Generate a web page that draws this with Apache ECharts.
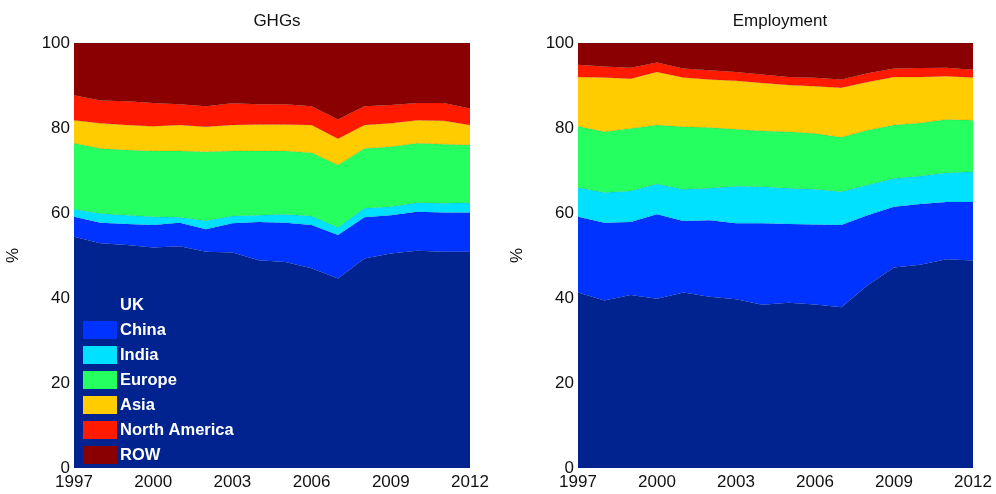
<!DOCTYPE html>
<html>
<head>
<meta charset="utf-8">
<script src="https://cdn.jsdelivr.net/npm/echarts@6/dist/echarts.min.js"></script>
<style>html,body{margin:0;padding:0;background:#fff}#c{width:996px;height:494px}</style>
</head>
<body>
<div id="c"></div>
<script>
const years = ['1997','1998','1999','2000','2001','2002','2003','2004','2005','2006','2007','2008','2009','2010','2011','2012'];
const regions = ['UK','China','India','Europe','Asia','North America','ROW'];
const colors = ['#00238f','#0033ff','#00e1ff','#25ff60','#ffcc00','#ff1a00','#8a0000'];

// GHGs shares (%)
const ghgUK     = [54.4,52.9,52.5,51.9,52.2,50.9,50.7,48.9,48.5,47.0,44.6,49.3,50.5,51.1,50.9,50.9];
const ghgChina  = [4.7,4.8,4.9,5.3,5.5,5.3,6.9,9.0,9.2,10.2,10.2,9.7,9.0,9.2,9.2,9.2];
const ghgIndia  = [1.8,2.2,2.1,1.9,1.3,2.0,1.7,1.6,2.0,2.1,1.8,2.1,2.0,2.1,2.2,2.3];
const ghgEurope = [15.5,15.3,15.3,15.5,15.6,16.2,15.3,15.1,14.9,14.9,14.7,14.1,14.1,14.0,13.9,13.6];
const ghgAsia   = [5.4,5.9,5.9,5.8,6.1,5.9,6.1,6.2,6.2,6.5,6.2,5.5,5.5,5.4,5.5,4.7];
const ghgNA     = [5.9,5.4,5.6,5.5,4.9,4.8,5.1,4.8,4.8,4.4,4.5,4.4,4.3,4.1,4.2,3.9];
const ghgROW    = [12.3,13.5,13.7,14.1,14.4,14.9,14.2,14.4,14.4,14.9,18.0,14.9,14.6,14.1,14.1,15.4];

// Employment shares (%)
const empUK     = [41.3,39.4,40.7,39.8,41.3,40.3,39.7,38.4,38.9,38.5,37.8,43.0,47.2,47.8,49.1,48.8];
const empChina  = [17.8,18.3,17.2,19.9,16.8,18.0,17.9,19.2,18.5,18.8,19.4,16.5,14.3,14.3,13.5,13.8];
const empIndia  = [6.9,7.1,7.3,7.1,7.5,7.5,8.7,8.6,8.4,8.3,7.8,7.1,6.6,6.6,6.9,7.1];
const empEurope = [14.4,14.3,14.7,13.9,14.7,14.3,13.4,13.1,13.3,13.1,12.8,12.9,12.6,12.5,12.5,12.1];
const empAsia   = [11.6,12.8,11.7,12.5,11.6,11.3,11.4,11.3,11.0,11.1,11.7,11.3,11.3,10.8,10.2,10.1];
const empNA     = [2.9,2.6,2.6,2.2,2.1,2.2,2.1,2.0,1.9,2.0,1.9,2.1,2.0,2.1,2.0,1.8];
const empROW    = [5.1,5.5,5.8,4.6,6.0,6.4,6.8,7.4,8.0,8.2,8.6,7.1,6.0,5.9,5.8,6.3];

const yTicks = [0,20,40,60,80,100];
const titles = ['GHGs','Employment'];

const ghg = [ghgUK,ghgChina,ghgIndia,ghgEurope,ghgAsia,ghgNA,ghgROW];
const emp = [empUK,empChina,empIndia,empEurope,empAsia,empNA,empROW];

const FONT = 'Liberation Sans, Arial, sans-serif';
const grids = [
  {left:74, top:43, width:396, height:425},
  {left:578, top:43, width:395, height:425}
];

function mkX(i){
  return {type:'category', gridIndex:i, data:years, boundaryGap:false,
    axisLine:{show:false}, axisTick:{show:false}, splitLine:{show:false},
    axisLabel:{interval:2, color:'#111', fontSize:17, fontFamily:FONT, margin:6}};
}
function mkY(i){
  return {type:'value', gridIndex:i, min:yTicks[0], max:yTicks[yTicks.length-1], interval:20,
    name:'%', nameLocation:'middle', nameGap:52, nameRotate:90,
    nameTextStyle:{color:'#111', fontSize:17, fontFamily:FONT},
    axisLine:{show:false}, axisTick:{show:false}, splitLine:{show:false},
    axisLabel:{color:'#111', fontSize:17, fontFamily:FONT, margin:4}};
}
const series = [];
[ghg, emp].forEach((set, gi) => {
  set.forEach((vals, k) => {
    series.push({
      name: regions[k], type:'line', xAxisIndex:gi, yAxisIndex:gi,
      stack:'s'+gi, data:vals, symbol:'none', showSymbol:false,
      lineStyle:{width:0.6, color:'rgba(0,0,0,0.35)', type:'dotted'},
      areaStyle:{color:colors[k], opacity:1},
      itemStyle:{color:colors[k]},
      z: 2
    });
  });
});

const chart = echarts.init(document.getElementById('c'), null, {renderer:'canvas'});
chart.setOption({
  animation:false,
  backgroundColor:'#fff',
  title:[
    {text:titles[0], left:272, top:8, textAlign:'center', textStyle:{fontSize:17, fontWeight:'normal', color:'#111', fontFamily:FONT}},
    {text:titles[1], left:775, top:8, textAlign:'center', textStyle:{fontSize:17, fontWeight:'normal', color:'#111', fontFamily:FONT}}
  ],
  legend:{
    data:regions, orient:'vertical', left:78, top:291,
    itemWidth:34, itemHeight:18, itemGap:7, icon:'rect',
    selectedMode:false,
    textStyle:{color:'#fff', fontSize:16.5, lineHeight:18, fontWeight:'bold', fontFamily:FONT, padding:[0,0,0,-2]},
    itemStyle:{borderWidth:0}
  },
  grid:grids,
  xAxis:[mkX(0), mkX(1)],
  yAxis:[mkY(0), mkY(1)],
  series:series
});
</script>
</body>
</html>
